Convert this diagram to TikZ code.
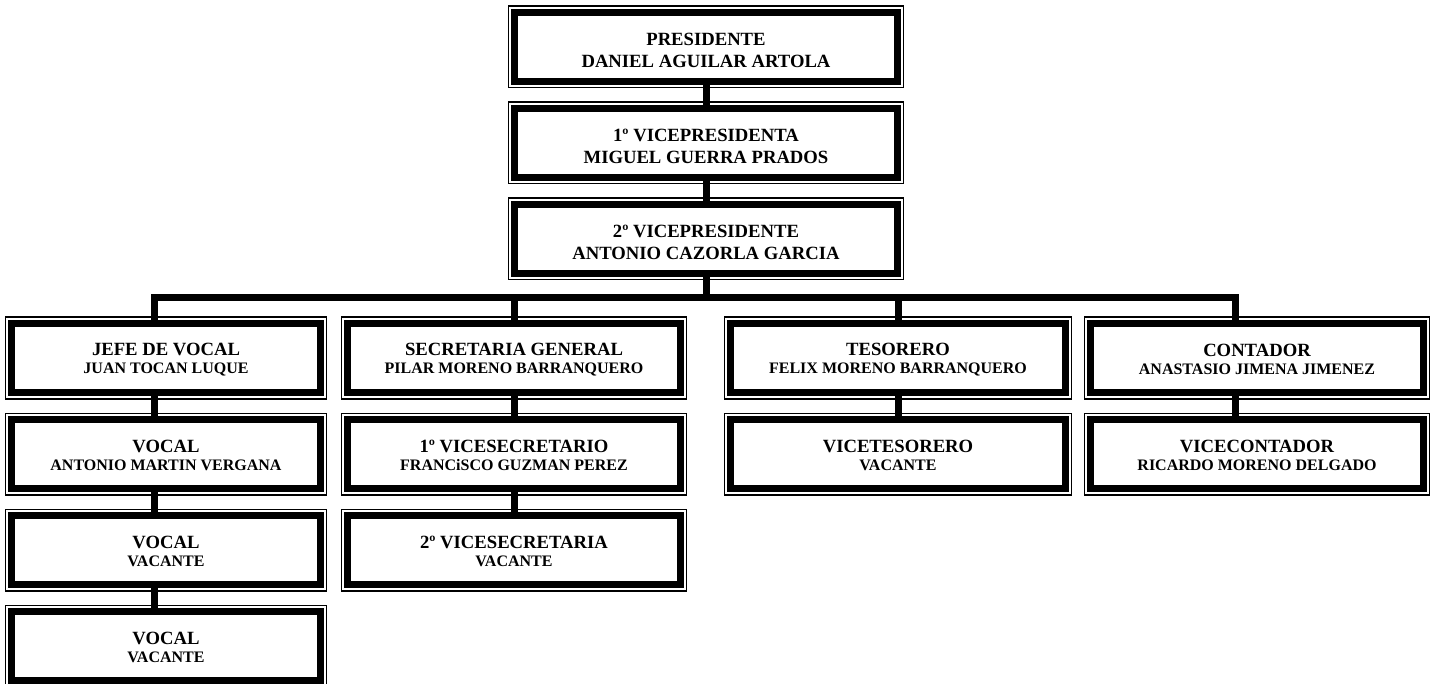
\documentclass[tikz,border=0pt]{standalone}
\usepackage{fontspec}
\setmainfont{Liberation Serif}
\tikzset{
  orgbox/.style={draw=black, fill=white, line width=5.25pt, line join=miter,
    inner sep=0pt, outer sep=0pt, align=center,
    preaction={draw=black, line width=10.05pt},
    preaction={draw=white, line width=7.95pt}},
  topbox/.style={orgbox, minimum width=382.6*0.75pt, minimum height=69.6*0.75pt,
    font=\bfseries\fontsize{14pt}{16.3pt}\selectfont},
  subbox/.style={orgbox, minimum height=69.6*0.75pt,
    font=\bfseries\fontsize{14pt}{13.7pt}\selectfont},
  wA/.style={subbox, minimum width=308.6*0.75pt},
  wB/.style={subbox, minimum width=332.6*0.75pt},
  wC/.style={subbox, minimum width=334.6*0.75pt},
  wD/.style={subbox, minimum width=332.6*0.75pt},
  conn/.style={draw=black, line width=5.25pt, line join=miter}
}
% lines of text, lowered a little inside their box
\newcommand{\tl}[1]{\raisebox{-2.4pt}[\height][\depth]{#1}}
\newcommand{\ha}[1]{\raisebox{-1.2pt}[\height][\depth]{#1}}
\newcommand{\sm}[1]{\raisebox{-1.2pt}[\height][\depth]{\fontsize{12pt}{13.7pt}\selectfont #1}}
\begin{document}
\begin{tikzpicture}[x=0.75pt, y=-0.75pt]
\useasboundingbox (0,0) rectangle (1439,684);
\clip (0,0) rectangle (1439,684);
% top chain
\node[topbox] (p1) at (706,47) {\tl{PRESIDENTE}\\\tl{DANIEL AGUILAR ARTOLA}};
\node[topbox] (p2) at (706,143) {\tl{1º VICEPRESIDENTA}\\\tl{MIGUEL GUERRA PRADOS}};
\node[topbox] (p3) at (706,239) {\tl{2º VICEPRESIDENTE}\\\tl{ANTONIO CAZORLA GARCIA}};
% column 1
\node[wA] (a1) at (166,358) {\ha{JEFE DE VOCAL}\\\sm{JUAN TOCAN LUQUE}};
\node[wA] (a2) at (166,454) {\ha{VOCAL}\\\sm{ANTONIO MARTIN VERGANA}};
\node[wA] (a3) at (166,550) {\ha{VOCAL}\\\sm{VACANTE}};
\node[wA] (a4) at (166,646) {\ha{VOCAL}\\\sm{VACANTE}};
% column 2
\node[wB] (b1) at (514,358) {\ha{SECRETARIA GENERAL}\\\sm{PILAR MORENO BARRANQUERO}};
\node[wB] (b2) at (514,454) {\ha{1º VICESECRETARIO}\\\sm{FRANCiSCO GUZMAN PEREZ}};
\node[wB] (b3) at (514,550) {\ha{2º VICESECRETARIA}\\\sm{VACANTE}};
% column 3
\node[wC] (c1) at (898,358) {\ha{TESORERO}\\\sm{FELIX MORENO BARRANQUERO}};
\node[wC] (c2) at (898,454) {\ha{VICETESORERO}\\\sm{VACANTE}};
% column 4
\node[wD] (d1) at (1257,358) {\ha{CONTADOR}\\\sm{ANASTASIO JIMENA JIMENEZ}};
\node[wD] (d2) at (1257,454) {\ha{VICECONTADOR}\\\sm{RICARDO MORENO DELGADO}};
% bar coordinates
\coordinate (barL) at (154,298);
\coordinate (barR) at (1235,298);
% connectors
\draw[conn] (p1.south) -- (p2.north);
\draw[conn] (p2.south) -- (p3.north);
\draw[conn] (p3.south) -- (p3.south |- barL);
\draw[conn] (a1.north -| barL) -- (barL) -- (barR) -- (d1.north -| barR);
\draw[conn] (b1.north) -- (b1.north |- barL);
\draw[conn] (c1.north) -- (c1.north |- barL);
\draw[conn] (a1.south -| barL) -- (a2.north -| barL);
\draw[conn] (a2.south -| barL) -- (a3.north -| barL);
\draw[conn] (a3.south -| barL) -- (a4.north -| barL);
\draw[conn] (b1.south) -- (b2.north);
\draw[conn] (b2.south) -- (b3.north);
\draw[conn] (c1.south) -- (c2.north);
\draw[conn] (d1.south -| barR) -- (d2.north -| barR);
\end{tikzpicture}
\end{document}
